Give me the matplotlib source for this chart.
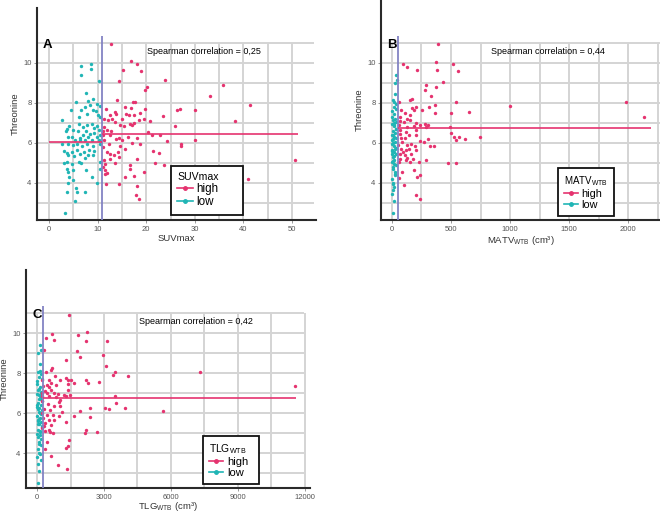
import matplotlib
matplotlib.use("Agg")
from matplotlib import pyplot as plt
from matplotlib.lines import Line2D

plt.rcParams['font.family'] = ['Liberation Sans', 'DejaVu Sans']

PINK = '#e5336f'
TEAL = '#20b5b5'
PURPLE = '#8383c4'
GRID = '#d4d4d4'

# ---- panel A: SUVmax ----
suv_high_x = [12.8, 16.9, 18.1, 15.3, 18.9, 14.3, 23.9, 20.2, 19.7, 35.8, 33.2, 14.0, 17.3, 17.7,
              41.3, 26.3, 27.0, 30.0, 11.8, 15.6, 16.9, 19.7, 13.6, 13.7, 12.5, 15.9, 16.5, 17.5,
              18.8, 23.4, 38.3, 11.4, 12.1, 13.5, 15.1, 15.5, 16.6, 17.0, 17.4, 18.6, 19.5, 20.7,
              26.0, 11.4, 11.9, 12.8, 14.6, 20.3, 21.2, 22.8, 11.2, 12.6, 14.4, 16.3, 18.1, 24.3,
              30.1, 27.2, 27.1, 11.4, 12.4, 13.8, 15.1, 15.7, 14.6, 17.0, 18.8, 21.4, 22.7, 21.9,
              23.7, 50.6, 11.2, 12.0, 12.6, 13.4, 14.2, 14.4, 11.3, 11.6, 12.6, 13.5, 16.7, 18.2,
              11.1, 11.6, 12.0, 11.6, 16.6, 19.5, 15.7, 17.4, 11.8, 14.4, 18.2, 17.9, 18.6, 41.0,
              11.1, 12.9]
suv_high_y = [10.93, 10.08, 9.97, 9.63, 9.6, 9.08, 9.17, 8.8, 8.67, 8.92, 8.35, 8.17, 8.05, 8.05,
              7.92, 7.63, 7.68, 7.63, 7.68, 7.8, 7.77, 7.7, 7.55, 7.47, 7.42, 7.47, 7.38, 7.38,
              7.5, 7.33, 7.12, 7.22, 7.13, 7.03, 7.22, 6.83, 6.97, 6.88, 7.02, 7.13, 7.22, 7.08,
              6.83, 6.8, 6.67, 6.6, 6.88, 6.53, 6.4, 6.4, 6.38, 6.38, 6.27, 6.3, 6.27, 6.12,
              6.13, 5.93, 5.85, 6.13, 5.97, 6.18, 6.13, 5.72, 5.85, 6.0, 5.93, 5.6, 5.48, 5.0,
              4.92, 5.17, 5.8, 5.55, 5.43, 5.38, 5.55, 5.3, 5.13, 4.97, 5.22, 5.02, 4.88, 5.22,
              4.8, 4.63, 4.52, 4.47, 4.72, 4.55, 4.3, 4.35, 3.93, 3.93, 3.85, 3.42, 3.18, 4.22,
              6.6, 7.22]
suv_low_x = [6.6, 8.7, 8.7, 6.6, 10.2, 7.6, 5.6, 8.1, 9.0, 9.8, 10.4, 4.6, 6.5, 7.3, 8.4, 9.1,
             9.7, 2.6, 6.1, 7.8, 10.0, 10.5, 4.1, 3.8, 6.2, 7.0, 7.9, 8.8, 9.3, 9.8, 10.3, 3.5,
             5.0, 6.0, 7.6, 8.4, 9.3, 10.5, 3.9, 4.7, 6.4, 6.9, 8.1, 9.8, 5.4, 6.4, 7.4, 8.8,
             10.2, 2.6, 4.0, 4.9, 5.8, 6.7, 7.8, 9.0, 10.5, 3.1, 3.6, 4.7, 5.7, 7.1, 8.3, 9.3,
             4.0, 5.2, 6.4, 7.4, 8.0, 9.0, 3.0, 3.6, 4.8, 6.1, 6.6, 10.4, 3.6, 4.0, 4.9, 7.6,
             10.4, 4.2, 4.9, 8.8, 4.0, 9.8, 5.6, 5.7, 3.6, 7.4, 5.4, 3.3]
suv_low_y = [9.83, 9.97, 9.68, 9.38, 9.08, 8.5, 8.05, 8.1, 8.22, 7.93, 7.83, 7.67, 7.67, 7.8,
             7.88, 7.63, 7.58, 7.17, 7.3, 7.47, 7.38, 7.3, 6.83, 6.72, 6.97, 6.8, 6.88, 6.97,
             6.73, 6.83, 6.63, 6.58, 6.63, 6.58, 6.58, 6.47, 6.52, 6.38, 6.3, 6.3, 6.27, 6.38,
             6.3, 6.3, 6.13, 6.13, 6.17, 6.13, 6.13, 5.93, 5.93, 5.88, 5.93, 5.85, 5.93, 5.85,
             5.97, 5.6, 5.52, 5.55, 5.63, 5.55, 5.63, 5.58, 5.38, 5.33, 5.43, 5.27, 5.38, 5.38,
             5.0, 5.05, 4.97, 5.05, 5.02, 5.05, 4.72, 4.55, 4.67, 4.67, 4.72, 4.3, 4.13, 4.3,
             4.02, 4.02, 3.75, 3.55, 3.55, 3.55, 3.08, 2.5]
suv_cut = 11
suv_mean_low, suv_mean_high = 6.05, 6.47
suv_line_end = 51.3

# ---- panel B: MATV ----
matv_high_x = [393, 93, 127, 209, 370, 381, 517, 559, 435, 291, 280, 376, 333, 167, 150, 59, 540,
               997, 1986, 2136, 650, 79, 107, 172, 201, 186, 251, 314, 364, 364, 500, 150, 130,
               65, 71, 99, 150, 206, 240, 277, 305, 189, 127, 56, 71, 206, 291, 494, 503, 525,
               566, 545, 616, 743, 141, 201, 74, 110, 88, 127, 164, 240, 308, 319, 356, 54, 195,
               271, 79, 144, 93, 121, 206, 65, 107, 164, 71, 127, 178, 285, 56, 116, 150, 229,
               85, 184, 59, 212, 237, 475, 540, 99, 201, 240, 65, 121]
matv_high_y = [10.95, 9.97, 9.8, 9.67, 10.07, 9.63, 9.93, 9.6, 9.07, 8.92, 8.67, 8.8, 8.37, 8.22,
               8.13, 8.03, 8.05, 7.85, 8.07, 7.3, 7.53, 7.63, 7.5, 7.77, 7.8, 7.63, 7.63, 7.8,
               7.92, 7.52, 7.52, 7.38, 7.22, 7.3, 7.1, 7.07, 7.13, 7.0, 6.88, 6.93, 6.88, 6.83,
               6.8, 6.88, 6.67, 6.63, 6.8, 6.8, 6.5, 6.3, 6.3, 6.13, 6.22, 6.3, 6.42, 6.38, 6.25,
               6.25, 6.05, 5.92, 5.97, 6.1, 6.22, 5.85, 5.85, 5.92, 5.83, 6.05, 5.72, 5.68, 5.55,
               5.63, 5.63, 5.43, 5.42, 5.47, 5.22, 5.25, 5.22, 5.17, 5.05, 5.13, 5.05, 5.07, 4.55,
               4.67, 4.27, 4.3, 4.38, 5.0, 5.0, 3.88, 3.42, 3.22, 6.47, 6.55]
matv_low_x = [34, 40, 28, 25, 8, 20, 34, 17, 31, 14, 3, 25, 6, 37, 2, 17, 34, 5, 22, 1, 14, 34,
              4, 25, 1, 14, 37, 3, 17, 2, 31, 9, 20, 2, 14, 34, 5, 22, 28, 2, 11, 6, 20, 12, 2,
              14, 8, 17, 30, 5, 10, 24, 3, 19, 7, 12, 26, 4, 15, 9]
matv_low_y = [9.38, 9.13, 9.0, 8.43, 8.13, 8.05, 7.97, 7.8, 7.68, 7.47, 7.3, 7.22, 7.13, 7.05,
              6.93, 6.83, 6.72, 6.6, 6.5, 6.38, 6.3, 6.25, 6.13, 6.05, 5.93, 5.83, 5.77, 5.67,
              5.55, 5.47, 5.43, 5.3, 5.17, 5.05, 4.97, 4.88, 4.72, 4.55, 4.38, 4.22, 4.0, 3.97,
              3.8, 3.63, 3.47, 3.1, 2.5, 6.9, 6.7, 6.4, 6.0, 5.7, 5.6, 5.35, 5.1, 4.8, 4.45,
              7.6, 7.0, 6.2]
matv_cut = 50
matv_mean_high = 6.75
matv_line_end = 2198

# ---- panel C: TLG ----
tlg_high_x = [1418, 672, 2239, 1836, 388, 746, 2209, 3150, 328, 1806, 2956, 1911, 3076, 1314, 687,
              612, 388, 7286, 3494, 3404, 4076, 11541, 791, 239, 537, 1015, 1314, 1403, 1508,
              2179, 2284, 2777, 1642, 1373, 448, 612, 836, 269, 522, 373, 1388, 642, 209, 448,
              761, 941, 1194, 1284, 1463, 239, 537, 866, 3494, 1015, 970, 3553, 239, 493, 761,
              1015, 3046, 3225, 3942, 2388, 5642, 299, 567, 1105, 1926, 209, 463, 716, 970, 1657,
              2358, 269, 537, 746, 1314, 373, 642, 239, 522, 2209, 343, 567, 716, 2134, 2687,
              1418, 463, 358, 1388, 1314, 612, 941, 1358, 299]
tlg_high_y = [10.92, 9.95, 10.05, 9.92, 9.75, 9.67, 9.62, 9.62, 9.17, 9.08, 8.92, 8.78, 8.37, 8.67,
              8.25, 8.13, 8.05, 8.07, 8.05, 7.9, 7.87, 7.33, 7.87, 7.67, 7.63, 7.67, 7.75, 7.67,
              7.67, 7.63, 7.5, 7.53, 7.5, 7.47, 7.42, 7.5, 7.42, 7.33, 7.3, 7.08, 7.13, 7.17,
              7.0, 7.0, 7.0, 6.97, 6.92, 6.83, 6.88, 6.83, 6.87, 6.8, 6.83, 6.67, 6.53, 6.5,
              6.58, 6.47, 6.33, 6.37, 6.25, 6.2, 6.25, 6.23, 6.12, 6.2, 6.13, 6.05, 6.08, 6.0,
              5.92, 5.88, 5.83, 5.83, 5.78, 5.75, 5.67, 5.63, 5.55, 5.5, 5.42, 5.25, 5.17, 5.17,
              5.08, 5.03, 5.0, 5.0, 5.03, 4.67, 4.53, 4.22, 4.33, 4.25, 3.87, 3.38, 3.22, 5.33]
tlg_low_x = [140, 190, 60, 120, 30, 180, 90, 210, 20, 150, 100, 50, 200, 10, 130, 70, 220, 40,
             160, 0, 110, 230, 80, 170, 20, 140, 60, 190, 30, 100, 210, 50, 150, 10, 120, 200,
             70, 170, 40, 90, 130, 0, 160, 60, 110, 30, 80, 180, 20, 150, 100, 50, 220, 130, 40,
             90, 10, 170, 60, 120]
tlg_low_y = [9.38, 9.13, 9.0, 8.43, 8.05, 7.97, 7.8, 7.68, 7.47, 7.3, 7.22, 7.13, 7.05, 6.93,
             6.83, 6.72, 6.6, 6.5, 6.38, 6.3, 6.25, 6.13, 6.05, 5.93, 5.83, 5.77, 5.67, 5.55,
             5.47, 5.43, 5.3, 5.17, 5.05, 4.97, 4.88, 4.72, 4.55, 4.38, 4.22, 4.0, 3.97, 3.8,
             3.63, 3.47, 3.1, 2.5, 6.9, 6.7, 6.4, 6.0, 5.7, 5.6, 5.35, 5.1, 4.8, 4.45, 7.6,
             7.0, 6.2, 8.1]
tlg_cut = 250
tlg_mean_high = 6.75
tlg_line_end = 11615

y_ticks = [4, 6, 8, 10]


def draw_panel(ax, letter, corr, xlabel, legend_title, hx, hy, lx, ly, cut,
               xlim, ylim, xgrid, xticks, grid_right, mean_lines, leg_box, leg_sizes,
               xlabelpad=1):
    ax.set_xlim(*xlim)
    ax.set_ylim(*ylim)
    # grid, only up to threonine = 11
    ax.vlines(xgrid, ylim[0], 11, colors=GRID, lw=1.4, zorder=0)
    ax.hlines(range(3, 12), xlim[0], grid_right, colors=GRID, lw=1.4, zorder=0)
    ax.vlines([cut], ylim[0], 11.35, colors=PURPLE, lw=1.3, zorder=3)
    for x0, x1, m in mean_lines:
        ax.hlines(m, x0, x1, colors=PINK, lw=1.2, zorder=3)
    ax.scatter(lx, ly, s=6, color=TEAL, lw=0, zorder=2)
    ax.scatter(hx, hy, s=6, color=PINK, lw=0, zorder=2)

    for s in ['top', 'right']:
        ax.spines[s].set_visible(False)
    for s in ['left', 'bottom']:
        ax.spines[s].set_linewidth(1.5)
        ax.spines[s].set_color('#2a2a2a')
    ax.set_xticks(xticks)
    ax.set_yticks(y_ticks)
    ax.tick_params(labelsize=5.5, labelcolor='#555555', color='#888888', length=2.5,
                   width=0.6, pad=1.5)
    ax.set_xlabel(xlabel, fontsize=6.8, color='#333333', labelpad=xlabelpad)
    ax.set_ylabel('Threonine', fontsize=6.8, color='#333333', labelpad=2.5)

    ax.text(0.022, (10.9 - ylim[0]) / (ylim[1] - ylim[0]), letter, transform=ax.transAxes,
            fontsize=9.5, fontweight='bold', va='center', ha='left')
    ax.text(0.6, (10.57 - ylim[0]) / (ylim[1] - ylim[0]), 'Spearman correlation = ' + corr,
            transform=ax.transAxes, fontsize=6.5, va='center', ha='center')

    handles = [Line2D([0], [0], color=PINK, marker='o', markersize=2.5, lw=1.2),
               Line2D([0], [0], color=TEAL, marker='o', markersize=2.5, lw=1.2)]
    leg = ax.legend(handles, ['high', 'low'], title=legend_title, loc='lower left',
                    bbox_to_anchor=leg_box, mode='expand', borderaxespad=0,
                    fontsize=leg_sizes[1], title_fontsize=leg_sizes[0], handlelength=1.3,
                    handletextpad=0.3, labelspacing=0.1, borderpad=0.55, fancybox=False,
                    framealpha=1)
    leg.get_frame().set_edgecolor('#111111')
    leg.get_frame().set_linewidth(1.3)
    leg._legend_box.align = 'left'


fig = plt.figure(figsize=(6.6, 5.13), dpi=100)

axA = fig.add_axes([0.0561, 0.5712, 0.4227, 0.4133])
draw_panel(axA, 'A', '0,25', 'SUVmax', 'SUVmax', suv_high_x, suv_high_y, suv_low_x, suv_low_y,
           suv_cut, (-2.47, 54.94), (2.15, 12.75), list(range(0, 55, 5)), [0, 10, 20, 30, 40, 50],
           54.5, [(0, suv_cut, suv_mean_low), (suv_cut, suv_line_end, suv_mean_high)],
           (0.48, 0.024, 0.258, 0.2), (7.6, 8.4))

axB = fig.add_axes([0.5773, 0.5712, 0.4227, 0.4288])
draw_panel(axB, 'B', '0,44', 'MATV$_{\\mathregular{WTB}}$ (cm³)', 'MATV$_{\\mathregular{WTB}}$',
           matv_high_x, matv_high_y, matv_low_x, matv_low_y, matv_cut, (-93, 2271), (2.15, 13.15),
           list(range(0, 2500, 250)), [0, 500, 1000, 1500, 2000], 2271,
           [(matv_cut, matv_line_end, matv_mean_high)], (0.634, 0.018, 0.2, 0.2), (7.0, 7.8))

axC = fig.add_axes([0.0394, 0.0487, 0.4303, 0.4249])
draw_panel(axC, 'C', '0,42', 'TLG$_{\\mathregular{WTB}}$ (cm³)', 'TLG$_{\\mathregular{WTB}}$',
           tlg_high_x, tlg_high_y, tlg_low_x, tlg_low_y, tlg_cut, (-493, 12225), (2.25, 13.15),
           list(range(0, 13500, 1500)), [0, 3000, 6000, 9000, 12000], 11950,
           [(tlg_cut, tlg_line_end, tlg_mean_high)], (0.623, 0.018, 0.197, 0.2), (7.4, 8.0),
           xlabelpad=-0.3)

plt.savefig('out.png', dpi=100)
